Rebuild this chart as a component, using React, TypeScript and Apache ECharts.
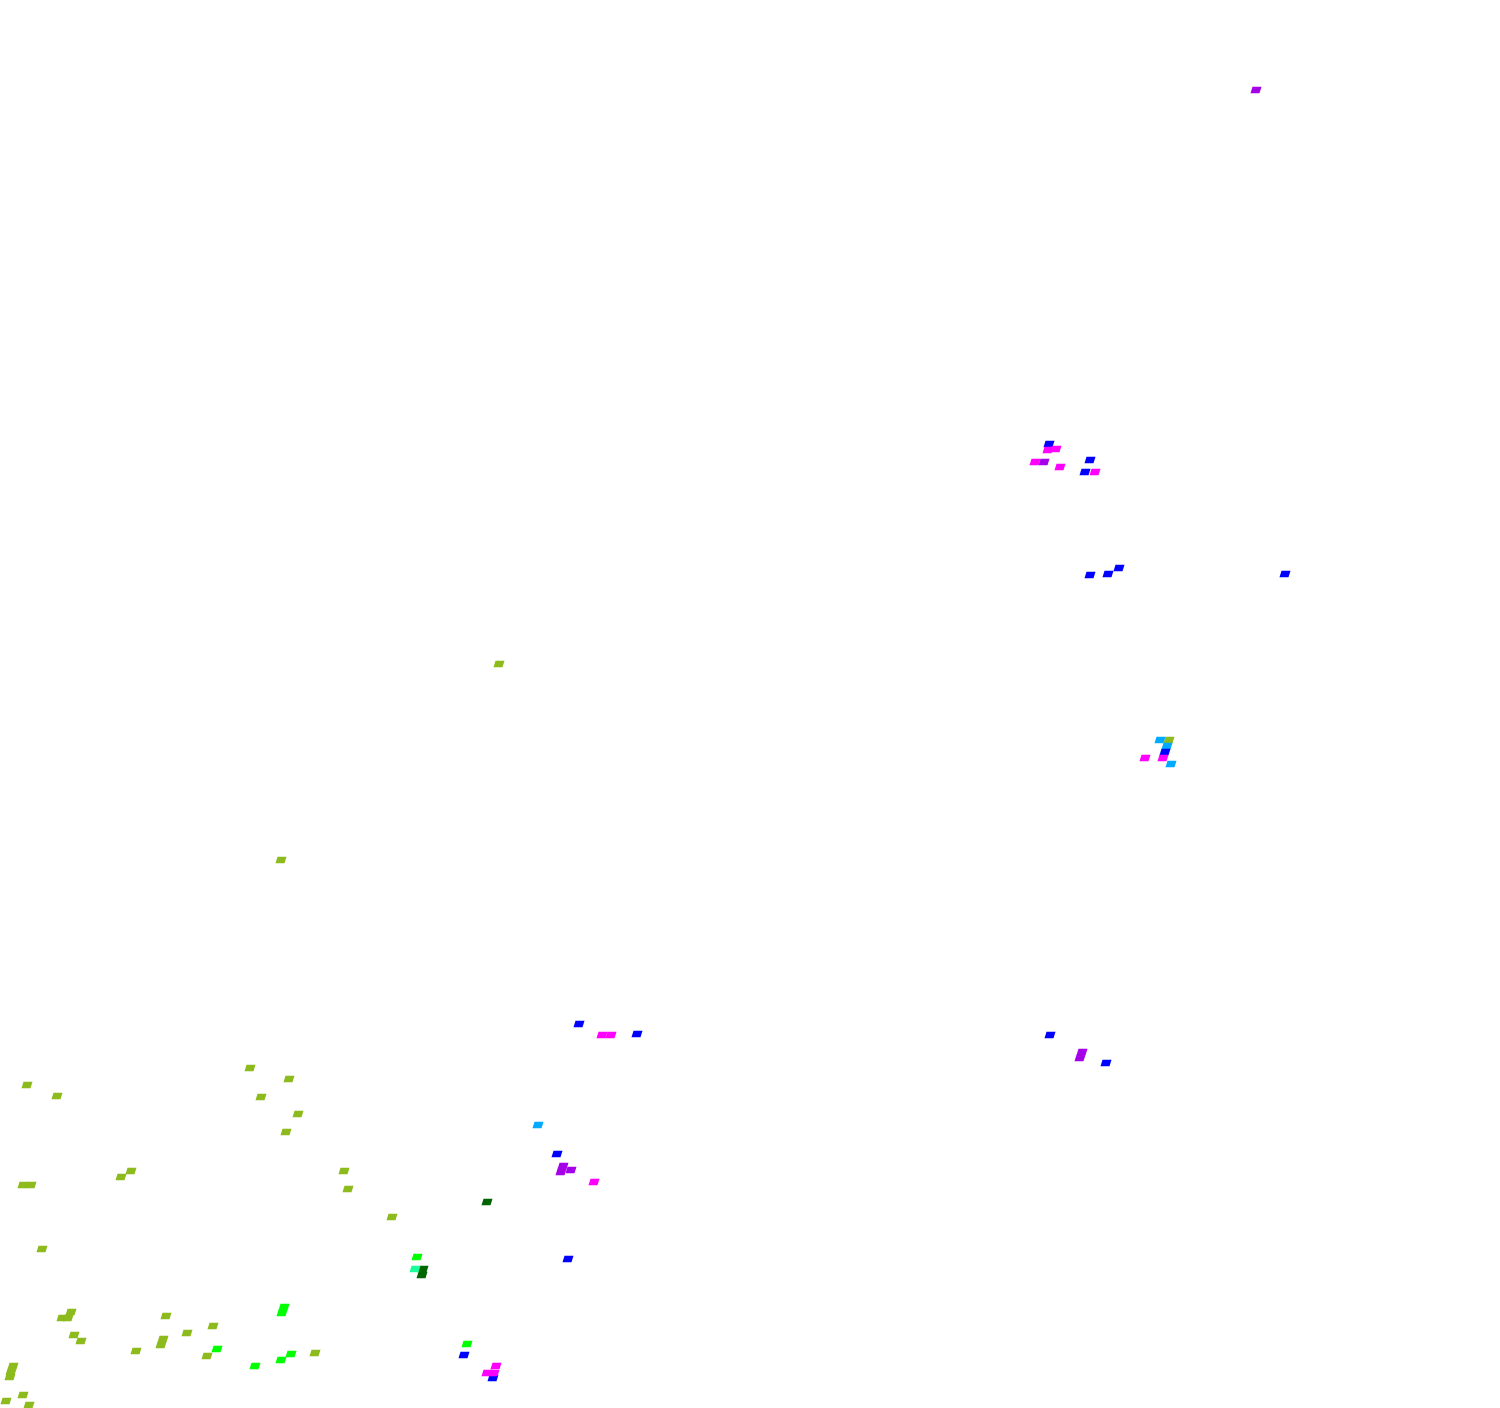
import React, { useEffect, useRef } from "react";
import * as echarts from "echarts";

// Point groups: [x, y] in the chart's own units (x 0–1500, y 0–1408, y grows downward)
const yellowGreenPts: number[][] = [
  [499, 664], [281, 860], [250, 1068], [289, 1079], [261, 1097], [298, 1114], [286, 1132],
  [27, 1085], [57, 1096], [121, 1177], [131, 1171], [23, 1185], [31, 1185], [42, 1249],
  [344, 1171], [348, 1189], [392, 1217], [71, 1312], [62, 1318], [68, 1318], [74, 1335],
  [81, 1341], [13, 1366], [11, 1372], [10, 1377], [6, 1401], [23, 1395], [29, 1405],
  [136, 1351], [163, 1339], [161, 1345], [166, 1316], [187, 1333], [213, 1326], [207, 1356],
  [182, 1410], [315, 1353], [1169, 740],
];
const limePts: number[][] = [
  [284, 1307], [282, 1313], [217, 1349], [255, 1366], [291, 1354], [281, 1360], [417, 1257], [467, 1344],
];
const darkGreenPts: number[][] = [[487, 1202], [423, 1269], [422, 1275]];
const springGreenPts: number[][] = [[415, 1269]];
const skyBluePts: number[][] = [[538, 1125], [1160, 740], [1167, 746], [1171, 764]];
const bluePts: number[][] = [
  [1049, 444], [1090, 460], [1085, 472], [1090, 575], [1108, 574], [1119, 568], [1285, 574],
  [1165, 752], [579, 1024], [637, 1034], [1050, 1035], [1106, 1063], [557, 1154], [568, 1259],
  [464, 1355], [493, 1378],
];
const magentaPts: number[][] = [
  [1048, 450], [1056, 449], [1035, 462], [1060, 467], [1095, 472], [1145, 758], [1163, 758],
  [602, 1035], [611, 1035], [594, 1182], [496, 1366], [487, 1373], [494, 1373],
];
const purplePts: number[][] = [
  [1256, 90], [1044, 462], [1082, 1052], [1080, 1058], [563, 1166], [561, 1172], [571, 1170],
];

const groups: { name: string; color: string; data: number[][] }[] = [
  { name: "yellowgreen", color: "#8dbb1e", data: yellowGreenPts },
  { name: "lime", color: "#00ff00", data: limePts },
  { name: "darkgreen", color: "#006400", data: darkGreenPts },
  { name: "springgreen", color: "#1aff9c", data: springGreenPts },
  { name: "skyblue", color: "#00aaff", data: skyBluePts },
  { name: "blue", color: "#0000ff", data: bluePts },
  { name: "magenta", color: "#ff00ff", data: magentaPts },
  { name: "purple", color: "#a500e8", data: purplePts },
];

export default function App() {
  const ref = useRef<HTMLDivElement>(null);
  useEffect(() => {
    if (!ref.current) return;
    const chart = echarts.init(ref.current, undefined, { renderer: "svg" });
    chart.setOption({
      animation: false,
      backgroundColor: "#ffffff",
      grid: { left: 0, right: 0, top: 0, bottom: 0 },
      xAxis: { type: "value", min: 0, max: 1500, show: false },
      yAxis: { type: "value", min: 0, max: 1408, inverse: true, show: false },
      series: groups.map((g) => ({
        name: g.name,
        type: "scatter",
        data: g.data,
        symbol: "path://M2,0 L11,0 L9,6 L0,6 Z",
        symbolSize: [11, 6.5],
        itemStyle: { color: g.color, opacity: 1 },
        emphasis: { disabled: true },
        silent: true,
      })),
    });
    return () => chart.dispose();
  }, []);
  return (
    <div
      ref={ref}
      style={{ position: "fixed", left: 0, top: 0, width: 1500, height: 1408, background: "#fff" }}
    />
  );
}
